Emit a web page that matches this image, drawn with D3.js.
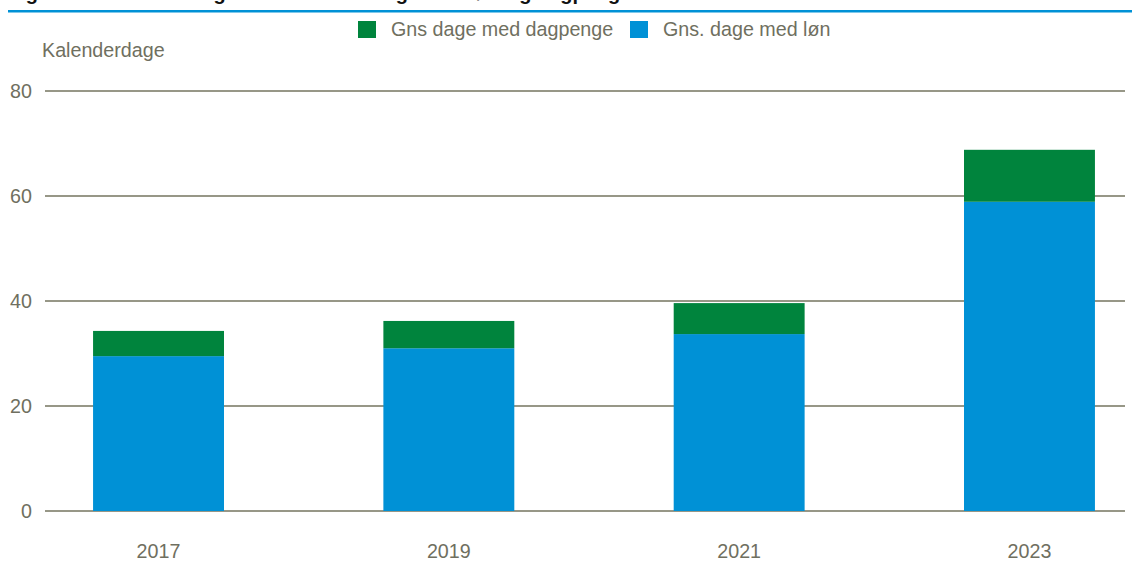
<!DOCTYPE html>
<html>
<head>
<meta charset="utf-8">
<script src="https://cdn.jsdelivr.net/npm/d3@7"></script>
<style>
  body { margin: 0; background: #fff; }
  svg { display: block; font-family: "Liberation Sans", Arial, sans-serif; }
</style>
</head>
<body>
<svg id="chart" width="1132" height="566"></svg>
<script>
  // data
  const years = ["2017", "2019", "2021", "2023"];
  const dageMedLoen = [29.5, 31.0, 33.7, 58.9];
  const dageMedDagpenge = [4.8, 5.2, 5.9, 9.9];
  const yTicks = [0, 20, 40, 60, 80];
  const seriesNames = ["Gns dage med dagpenge", "Gns. dage med løn"];

  const blue = "#0091d6";
  const green = "#00843d";
  const textColor = "#6f6f60";
  const gridColor = "#74745f";
  const fs = 19.7;

  const svg = d3.select("#chart");

  // title is cut off at the top, only descenders show
  svg.append("text")
    .attr("x", 8).attr("y", -0.5)
    .attr("font-size", 20).attr("font-weight", "bold").attr("fill", "#111")
    .text("Figur 1: Gennemsnitligt antal kalenderdage med løn og dagpenge");

  svg.append("rect")
    .attr("x", 8).attr("y", 10).attr("width", 1124).attr("height", 2.5)
    .attr("fill", blue);

  const x = d3.scaleBand()
    .domain(years)
    .range([35, 1153])
    .paddingInner(0.549)
    .paddingOuter(0.2);

  const y = d3.scaleLinear()
    .domain([0, 80])
    .range([511, 91]);

  // gridlines
  svg.append("g")
    .selectAll("line")
    .data(yTicks)
    .join("line")
    .attr("x1", 45).attr("x2", 1125)
    .attr("y1", d => y(d)).attr("y2", d => y(d))
    .attr("stroke", gridColor).attr("stroke-width", 1.3);

  svg.append("g")
    .selectAll("text")
    .data(yTicks)
    .join("text")
    .attr("x", 32).attr("y", d => y(d) + 7)
    .attr("text-anchor", "end")
    .attr("font-size", fs).attr("fill", textColor)
    .text(d => d);

  svg.append("text")
    .attr("x", 42).attr("y", 57)
    .attr("font-size", fs).attr("fill", textColor)
    .text("Kalenderdage");

  // stacked bars
  const rows = years.map((yr, i) => ({ year: yr, loen: dageMedLoen[i], dagpenge: dageMedDagpenge[i] }));
  const stack = d3.stack().keys(["loen", "dagpenge"])(rows);
  const colors = { loen: blue, dagpenge: green };

  svg.append("g")
    .selectAll("g")
    .data(stack)
    .join("g")
    .attr("fill", d => colors[d.key])
    .selectAll("rect")
    .data(d => d)
    .join("rect")
    .attr("x", d => x(d.data.year))
    .attr("width", x.bandwidth())
    .attr("y", d => y(d[1]))
    .attr("height", d => y(d[0]) - y(d[1]));

  // x labels
  svg.append("g")
    .selectAll("text")
    .data(years)
    .join("text")
    .attr("x", d => x(d) + x.bandwidth() / 2)
    .attr("y", 558)
    .attr("text-anchor", "middle")
    .attr("font-size", fs).attr("fill", textColor)
    .text(d => d);

  // legend
  const legend = [
    { name: seriesNames[0], color: green, x: 358 },
    { name: seriesNames[1], color: blue, x: 630 }
  ];
  const lg = svg.append("g")
    .selectAll("g")
    .data(legend)
    .join("g")
    .attr("transform", d => `translate(${d.x},21)`);
  lg.append("rect").attr("width", 18).attr("height", 17).attr("fill", d => d.color);
  lg.append("text")
    .attr("x", 33).attr("y", 15)
    .attr("font-size", fs).attr("fill", textColor)
    .text(d => d.name);
</script>
</body>
</html>
